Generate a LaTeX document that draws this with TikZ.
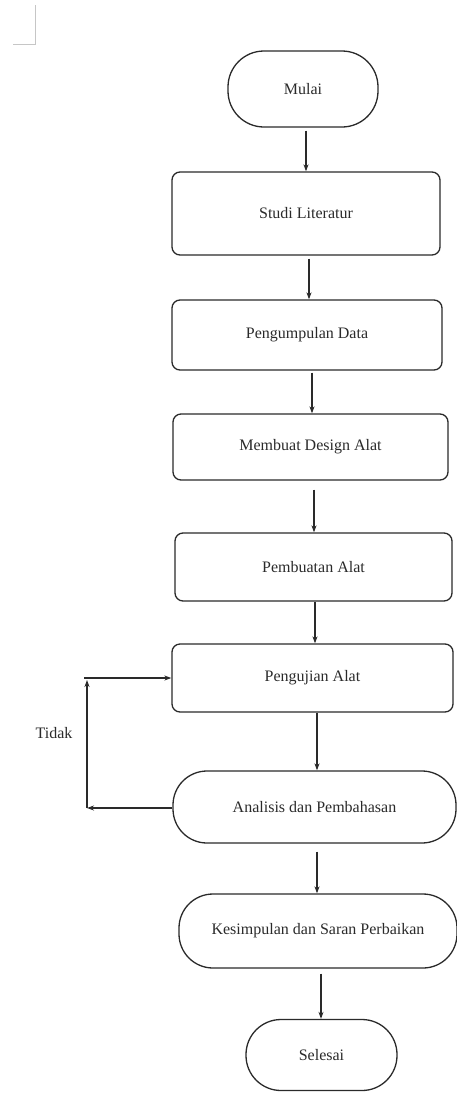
\documentclass[tikz,border=0pt]{standalone}
\usepackage{fontspec}
\setmainfont{Liberation Serif}
\usetikzlibrary{arrows.meta}
\definecolor{ink}{HTML}{2A2A2A}
\tikzset{
  box/.style={draw=ink, line width=1.3pt, rounded corners=8pt, align=center, inner sep=0pt, text=ink, font=\fontsize{16}{18}\selectfont},
  term/.style={box, rounded corners=34pt},
  arr/.style={draw=ink, line width=1.3pt, -{Stealth[length=7pt,width=5pt]}},
}
\begin{document}
\begin{tikzpicture}[x=1pt,y=-1pt]
\useasboundingbox (0,0) rectangle (457,1093);
% corner mark
\draw[gray!45, line width=0.8pt] (35,5) -- (35,44) -- (13,44);

\node[term, rounded corners=36pt, minimum width=150pt, minimum height=76pt] (mulai) at (303,89) {Mulai};
\node[box, minimum width=268pt, minimum height=83pt] (studi) at (306,213.5) {Studi Literatur};
\node[box, minimum width=270pt, minimum height=70pt] (data) at (307,335) {Pengumpulan Data};
\node[box, minimum width=275pt, minimum height=66pt] (design) at (310.5,447) {Membuat Design Alat};
\node[box, minimum width=277pt, minimum height=68pt] (buat) at (313.5,567) {Pembuatan Alat};
\node[box, minimum width=281pt, minimum height=68pt] (uji) at (312.5,678) {Pengujian Alat};
\node[term, minimum width=283pt, minimum height=72pt] (analisis) at (314.5,807) {Analisis dan Pembahasan};
\node[term, minimum width=278pt, minimum height=74pt] (simpul) at (318,931) {Kesimpulan dan Saran Perbaikan};
\node[term, rounded corners=35pt, minimum width=151pt, minimum height=71pt] (selesai) at (321.5,1055) {Selesai};

\draw[arr, shorten <=3pt] (mulai.south -| 306,0) -- (studi.north -| 306,0);
\draw[arr, shorten <=3pt] (studi.south -| 309,0) -- (data.north -| 309,0);
\draw[arr, shorten <=2pt] (data.south -| 312,0) -- (design.north -| 312,0);
\draw[arr, shorten <=9pt] (design.south -| 314,0) -- (buat.north -| 314,0);
\draw[arr] (buat.south -| 315,0) -- (uji.north -| 315,0);
\draw[arr] (uji.south -| 317,0) -- (analisis.north -| 317,0);
\draw[arr, shorten <=8pt] (analisis.south -| 317,0) -- (simpul.north -| 317,0);
\draw[arr, shorten <=5pt] (simpul.south -| 321,0) -- (selesai.north -| 321,0);

% loop back
\coordinate (lb) at (87,808);
\coordinate (lt) at (87,680);
\coordinate (lh) at (84,678);
\draw[arr] (analisis.west |- lb) -- (lb);
\draw[arr] (lb) -- (lt);
\draw[arr] (lh) -- (uji.west |- lh);
\node[text=ink, font=\fontsize{16}{18}\selectfont] (tidak) at (54,733) {Tidak};
\end{tikzpicture}
\end{document}
